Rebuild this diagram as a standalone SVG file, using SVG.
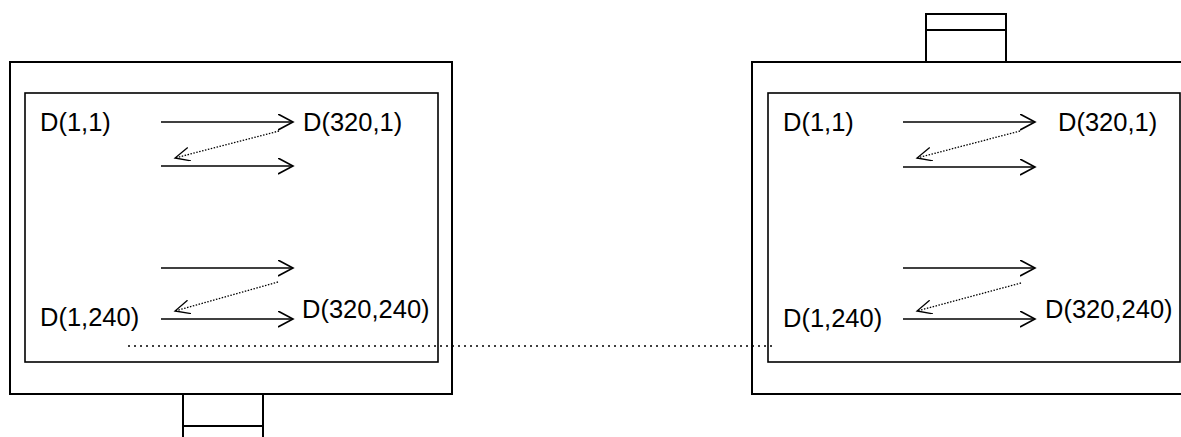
<svg xmlns="http://www.w3.org/2000/svg" width="1181" height="437" viewBox="0 0 1181 437">
<defs>
<marker id="ah" markerWidth="18" markerHeight="18" refX="15" refY="8" orient="auto" markerUnits="userSpaceOnUse">
<path d="M0,0 L15,8 L0,16" fill="none" stroke="#000" stroke-width="1.6"/>
</marker>
<marker id="ahd" markerWidth="18" markerHeight="18" refX="15" refY="7" orient="auto" markerUnits="userSpaceOnUse">
<path d="M0,0 L15,7 L0,14" fill="none" stroke="#000" stroke-width="1.3"/>
</marker>
</defs>
<style>
.frame{fill:#fff;stroke:#000;stroke-width:2}
.inner{fill:#fff;stroke:#000;stroke-width:1.6}
.tab{fill:#fff;stroke:#000;stroke-width:2}
.arr{stroke:#000;stroke-width:1.6;fill:none;marker-end:url(#ah)}
.dot{stroke:#000;stroke-width:1.3;fill:none;stroke-dasharray:1.5 1.5;marker-end:url(#ahd)}
.lbl{font-family:"Liberation Sans",Arial,sans-serif;font-size:25.5px;fill:#000}
.hdot{stroke:#000;stroke-width:1.3;stroke-dasharray:2 4;fill:none}
</style>
<rect width="1181" height="437" fill="#fff"/>
<g id="left-device">
<rect class="tab" x="183" y="394" width="80" height="32"/>
<line x1="183" y1="426" x2="183" y2="437" stroke="#000" stroke-width="2"/>
<line x1="263" y1="426" x2="263" y2="437" stroke="#000" stroke-width="2"/>
<rect class="frame" x="10" y="62" width="442" height="332"/>
<rect class="inner" x="25" y="93" width="413" height="269"/>
<text class="lbl" x="40" y="131">D(1,1)</text>
<text class="lbl" x="303" y="131">D(320,1)</text>
<text class="lbl" x="40" y="326">D(1,240)</text>
<text class="lbl" x="302" y="318">D(320,240)</text>
</g>
<g id="right-device">
<rect class="tab" x="926" y="14" width="80" height="48"/>
<line x1="926" y1="30" x2="1006" y2="30" stroke="#000" stroke-width="2"/>
<rect class="frame" x="752" y="62" width="440" height="332"/>
<rect class="inner" x="768" y="93" width="412" height="269"/>
<text class="lbl" x="783" y="131">D(1,1)</text>
<text class="lbl" x="1058" y="131">D(320,1)</text>
<text class="lbl" x="783" y="327">D(1,240)</text>
<text class="lbl" x="1045" y="318">D(320,240)</text>
</g>
<g id="connectors">
<line class="arr" x1="161" y1="122" x2="293" y2="122"/>
<line class="arr" x1="161" y1="166" x2="293" y2="166"/>
<line class="dot" x1="279" y1="131" x2="175" y2="158"/>
<line class="arr" x1="161" y1="268" x2="293" y2="268"/>
<line class="arr" x1="161" y1="319" x2="293" y2="319"/>
<line class="dot" x1="278" y1="282" x2="175" y2="311"/>
<line class="arr" x1="903" y1="122" x2="1035" y2="122"/>
<line class="arr" x1="903" y1="167" x2="1035" y2="167"/>
<line class="dot" x1="1020" y1="131" x2="917" y2="158"/>
<line class="arr" x1="903" y1="268" x2="1035" y2="268"/>
<line class="arr" x1="903" y1="319" x2="1035" y2="319"/>
<line class="dot" x1="1021" y1="283" x2="917" y2="311"/>
<line class="hdot" x1="128" y1="346" x2="775" y2="346"/>
</g>
</svg>
